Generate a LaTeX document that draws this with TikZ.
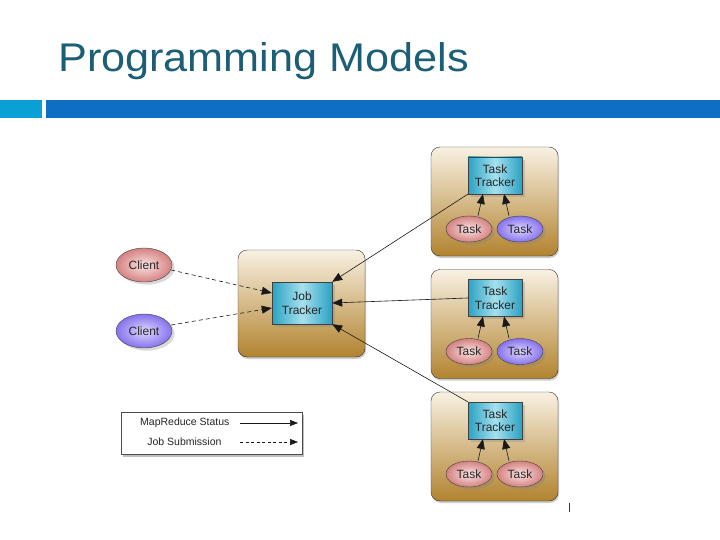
\documentclass[tikz,border=0pt]{standalone}
\usepackage{fontspec}
\setmainfont{Liberation Sans}
\usetikzlibrary{shadows,arrows.meta,shapes.geometric}

\definecolor{titleteal}{HTML}{1B5E75}
\definecolor{barcyan}{HTML}{0AA0D6}
\definecolor{barblue}{HTML}{0E6FC2}
\definecolor{goldtop}{HTML}{F8F1E2}
\definecolor{goldbot}{HTML}{B2832F}
\definecolor{trkedge}{HTML}{2AA2C2}
\definecolor{trkmid}{HTML}{A6E0EE}
\definecolor{pinkout}{HTML}{D48282}
\definecolor{pinkin}{HTML}{FBE3E3}
\definecolor{purpout}{HTML}{8672EC}
\definecolor{purpin}{HTML}{E0D8FF}

\tikzset{
    hostbox/.style={draw=black!80, rounded corners=9pt, minimum width=127pt, minimum height=108pt,
        top color=goldtop, bottom color=goldbot, drop shadow={opacity=0.4, shadow xshift=1pt, shadow yshift=-2pt}},
    tracker/.style={draw=black!75, align=center, font=\fontsize{12}{13.5}\selectfont, text=black!85,
        left color=trkedge, right color=trkedge, middle color=trkmid, inner sep=0pt, drop shadow={opacity=0.3}},
    pinkell/.style={ellipse, draw=black!75, inner color=pinkin, outer color=pinkout,
        minimum width=46pt, minimum height=26pt, inner sep=0pt, font=\fontsize{12}{13}\selectfont, text=black!85,
        drop shadow={opacity=0.3}},
    purpell/.style={pinkell, inner color=purpin, outer color=purpout},
    status/.style={-{Triangle[length=10pt,width=8pt]}, black!90, line width=0.6pt},
    submit/.style={status, dash pattern=on 4pt off 3pt}
}

\begin{document}
\begin{tikzpicture}[x=1pt, y=-1pt]
    \useasboundingbox (0,0) rectangle (720,540);

    % title and bar
    \node[anchor=base west, inner sep=0pt, text=titleteal, font=\fontsize{40}{42}\selectfont] (title) at (58,71.5) {\scalebox{1.08}[1]{Programming Models}};
    \fill[barcyan] (0,100) rectangle (42,118);
    \fill[barblue] (46,100) rectangle (720,118);

    % job tracker host
    \node[hostbox, minimum height=107pt] (jobhost) at (301.5,303.5) {};
    \node[tracker, minimum width=60pt, minimum height=42pt] (job) at (302,303) {Job\\Tracker};

    % clients
    \node[pinkell, minimum width=56pt, minimum height=34pt] (clientA) at (144,265) {Client};
    \node[purpell, minimum width=56pt, minimum height=34pt] (clientB) at (144,331) {Client};

    % task tracker hosts
    \foreach \n/\y/\col in {top/201.5/purpell, mid/324/purpell, bot/446.5/pinkell} {
        \node[hostbox, minimum height=109pt] (host\n) at (494.5,\y) {};
        \node[tracker, minimum width=54pt, minimum height=37pt] (tt\n) at (495,\y-26) {Task\\Tracker};
        \node[pinkell] (taskA\n) at (469,\y+27.5) {Task};
        \node[\col] (taskB\n) at (520,\y+27.5) {Task};
        \coordinate (ha\n) at (483,\y-7.5);
        \coordinate (hb\n) at (504,\y-7.5);
        \draw[status] ([xshift=9pt]taskA\n.north) -- (ha\n);
        \draw[status] ([xshift=-11pt]taskB\n.north) -- (hb\n);
    }

    % status and submission arrows
    \draw[status] (tttop.south west) -- (job.north east);
    \draw[status] (ttmid.west) -- (job.east);
    \draw[status] (ttbot.north west) -- (job.south east);
    \draw[submit] ([shift={(-1,5)}]clientA.east) -- ([yshift=10pt]job.west);
    \draw[submit] ([shift={(-1,-6)}]clientB.east) -- ([yshift=-5pt]job.west);

    % legend
    \node[draw=black!70, fill=white, minimum width=181pt, minimum height=42pt,
        drop shadow={opacity=0.5, shadow xshift=1pt, shadow yshift=-3pt}] (legend) at (212,433) {};
    \node[anchor=east, font=\fontsize{10.5}{12}\selectfont, text=black!85] (lgstat) at (233,423) {MapReduce Status};
    \node[anchor=east, font=\fontsize{10.5}{12}\selectfont, text=black!85] (lgsub) at (225,442) {Job Submission};
    \coordinate (ls1) at (240,423); \coordinate (le1) at (298,423);
    \coordinate (ls2) at (240,442); \coordinate (le2) at (298,442);
    \draw[status, -{Triangle[length=8pt,width=6pt]}] (ls1) -- (le1);
    \draw[submit, -{Triangle[length=8pt,width=6pt]}, dash pattern=on 3pt off 2.5pt] (ls2) -- (le2);

    % stray mark
    \draw[black!80] (569,503) -- (569,512);
\end{tikzpicture}
\end{document}
